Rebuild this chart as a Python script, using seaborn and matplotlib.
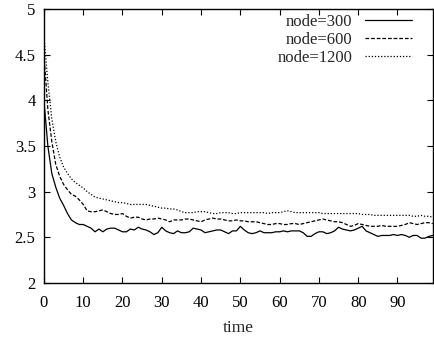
import numpy as np
import pandas as pd
import matplotlib
matplotlib.use("Agg")
import matplotlib.pyplot as plt
import seaborn as sns

time = list(range(100))
node300 = [4.0, 3.5, 3.2, 3.05, 2.93, 2.85, 2.76, 2.69, 2.66, 2.64,
           2.64, 2.62, 2.60, 2.56, 2.59, 2.56, 2.59, 2.60, 2.60, 2.58,
           2.56, 2.56, 2.59, 2.58, 2.61, 2.59, 2.58, 2.56, 2.53, 2.55,
           2.61, 2.57, 2.55, 2.54, 2.57, 2.55, 2.55, 2.56, 2.60, 2.59,
           2.58, 2.55, 2.56, 2.57, 2.58, 2.58, 2.56, 2.54, 2.57, 2.57,
           2.62, 2.58, 2.55, 2.54, 2.55, 2.57, 2.55, 2.55, 2.55, 2.56,
           2.56, 2.57, 2.56, 2.57, 2.57, 2.57, 2.55, 2.51, 2.51, 2.54,
           2.56, 2.56, 2.54, 2.55, 2.57, 2.61, 2.59, 2.58, 2.57, 2.58,
           2.60, 2.62, 2.57, 2.55, 2.53, 2.51, 2.52, 2.52, 2.52, 2.53,
           2.52, 2.53, 2.52, 2.50, 2.52, 2.52, 2.49, 2.49, 2.51, 2.52]
node600 = [4.5, 3.9, 3.55, 3.3, 3.17, 3.08, 3.02, 2.97, 2.95, 2.91,
           2.86, 2.79, 2.78, 2.78, 2.79, 2.80, 2.78, 2.76, 2.75, 2.75,
           2.76, 2.73, 2.71, 2.72, 2.72, 2.70, 2.69, 2.70, 2.70, 2.71,
           2.70, 2.69, 2.67, 2.69, 2.69, 2.69, 2.70, 2.70, 2.69, 2.68,
           2.67, 2.69, 2.70, 2.71, 2.70, 2.70, 2.69, 2.68, 2.68, 2.69,
           2.68, 2.68, 2.67, 2.67, 2.67, 2.66, 2.65, 2.64, 2.64, 2.65,
           2.65, 2.64, 2.64, 2.65, 2.65, 2.64, 2.65, 2.66, 2.67, 2.68,
           2.69, 2.70, 2.69, 2.68, 2.67, 2.67, 2.66, 2.64, 2.62, 2.63,
           2.65, 2.64, 2.63, 2.62, 2.62, 2.62, 2.63, 2.62, 2.62, 2.62,
           2.62, 2.63, 2.64, 2.66, 2.65, 2.64, 2.65, 2.66, 2.66, 2.65]
node1200 = [4.7, 4.2, 3.8, 3.55, 3.38, 3.27, 3.2, 3.14, 3.1, 3.07,
            3.04, 3.0, 2.97, 2.94, 2.93, 2.92, 2.91, 2.90, 2.89, 2.88,
            2.88, 2.87, 2.86, 2.86, 2.86, 2.86, 2.86, 2.85, 2.84, 2.83,
            2.82, 2.82, 2.81, 2.81, 2.80, 2.78, 2.77, 2.77, 2.77, 2.78,
            2.78, 2.78, 2.77, 2.76, 2.76, 2.77, 2.77, 2.77, 2.76, 2.76,
            2.77, 2.77, 2.77, 2.77, 2.77, 2.77, 2.77, 2.76, 2.77, 2.77,
            2.77, 2.78, 2.79, 2.78, 2.77, 2.77, 2.77, 2.77, 2.77, 2.77,
            2.77, 2.76, 2.76, 2.76, 2.76, 2.76, 2.76, 2.76, 2.76, 2.76,
            2.76, 2.75, 2.75, 2.75, 2.74, 2.74, 2.74, 2.74, 2.74, 2.74,
            2.74, 2.74, 2.74, 2.74, 2.73, 2.73, 2.74, 2.73, 2.73, 2.72]
labels = ["node=300", "node=600", "node=1200"]
xticks = [0, 10, 20, 30, 40, 50, 60, 70, 80, 90]
yticks = [2, 2.5, 3, 3.5, 4, 4.5, 5]
ytick_labels = ["2", "2.5", "3", "3.5", "4", "4.5", "5"]

sns.set_theme(style="ticks")
plt.rcParams["font.family"] = ["Liberation Serif", "DejaVu Serif"]

df = pd.concat([
    pd.DataFrame({"time": time, "value": vals, "node": lab})
    for vals, lab in zip([node300, node600, node1200], labels)
])

fig = plt.figure(figsize=(4.35, 3.38), dpi=100)
ax = fig.add_axes([0.101, 0.163, 0.894, 0.810])
sns.lineplot(data=df, x="time", y="value", style="node", hue="node",
             palette=["black", "black", "black"],
             dashes={"node=300": "", "node=600": (3, 1.5), "node=1200": (1, 1.5)},
             linewidth=0.9, ax=ax)

ax.set_xlim(0, 99)
ax.set_ylim(2, 5)
ax.set_xticks(xticks)
ax.set_yticks(yticks)
ax.set_yticklabels(ytick_labels)
ax.set_xlabel("time", fontsize=12.5, labelpad=6)
ax.set_ylabel("")
ax.tick_params(direction="in", top=True, right=True, labelsize=12,
               length=4, width=0.8, colors="black", pad=6)
ax.tick_params(axis="x", pad=9)
for s in ax.spines.values():
    s.set_linewidth(1.0)
    s.set_color("black")

leg = ax.legend(loc="upper right", frameon=False, markerfirst=False,
                fontsize=12, handlelength=2.8, handletextpad=0.75,
                labelspacing=0.12, borderaxespad=0.0, borderpad=0.0,
                bbox_to_anchor=(0.946, 0.982))
for t in leg.get_texts():
    t.set_ha("right")

fig.savefig("out.png", dpi=100)
